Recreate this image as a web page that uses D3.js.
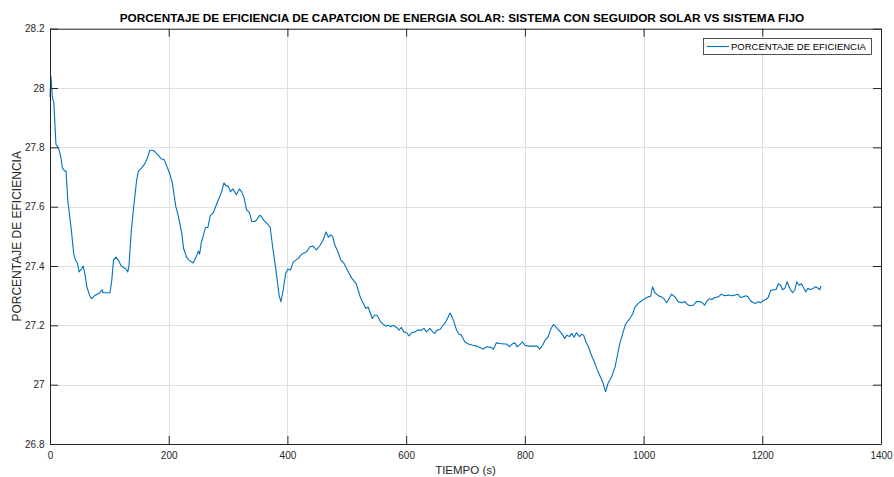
<!DOCTYPE html>
<html><head><meta charset="utf-8">
<script src="https://cdn.jsdelivr.net/npm/d3@7"></script>
<style>
html,body{margin:0;padding:0;background:#fff;}
svg{display:block;font-family:"Liberation Sans",Arial,Helvetica,sans-serif;}
</style></head>
<body><svg id="chart" width="894" height="477"></svg>
<script>
const titleText = "PORCENTAJE DE EFICIENCIA DE CAPATCION DE ENERGIA SOLAR: SISTEMA CON SEGUIDOR SOLAR VS SISTEMA FIJO";
const xLabel = "TIEMPO (s)";
const yLabel = "PORCENTAJE DE EFICIENCIA";
const seriesName = "PORCENTAJE DE EFICIENCIA";
const xTicks = [0, 200, 400, 600, 800, 1000, 1200, 1400];
const yTicks = [26.8, 27, 27.2, 27.4, 27.6, 27.8, 28, 28.2];

const time = [0,1.5,4,6.5,10,14,18,21,25,27,30,36,40,43,46,49,53,56,59,62,67,70,75,84,88,89,101,104,107,111,115,120,128,131,133,137,141,146,149,154,158,161,165,168,173,177,184,188,192,196,202,206,209,212,216,222,225,230,234,241,246,250,252,255,258,262,266,270,275,279,283,289,293,297,300,304,308,314,319,323,327,331,336,340,342,345,348,353,355,360,367,371,375,379,383,386,389,393,397,401,405,410,418,424,432,438,443,449,455,460,465,469,473,476,480,485,490,495,500,504,508,512,516,519,522,526,529,532,536,540,543,547,551,557,561,566,570,574,578,584,588,592,596,601,605,609,615,620,626,630,634,640,645,648,652,657,661,667,671,674,677,680,685,689,693,699,705,712,719,724,730,736,744,747,752,758,765,769,774,778,783,787,792,796,800,806,814,821,825,830,834,839,843,848,852,858,864,867,871,875,879,883,887,892,896,899,903,907,912,918,921,926,931,936,940,946,952,956,960,965,969,971,976,982,985,991,997,1002,1008,1012,1015,1019,1025,1030,1034,1039,1043,1047,1053,1058,1064,1070,1074,1078,1084,1089,1095,1099,1103,1106,1111,1115,1120,1126,1131,1137,1143,1148,1154,1159,1163,1168,1172,1176,1180,1185,1189,1193,1197,1201,1206,1210,1214,1218,1223,1227,1231,1234,1238,1242,1246,1251,1255,1258,1262,1266,1270,1273,1277,1281,1286,1290,1294,1297,1299];
const efficiency = [27.97,28.04,27.97,27.95,27.81,27.80,27.77,27.73,27.72,27.72,27.62,27.52,27.44,27.42,27.41,27.38,27.39,27.40,27.37,27.33,27.30,27.29,27.30,27.31,27.32,27.31,27.31,27.35,27.42,27.43,27.42,27.40,27.39,27.38,27.40,27.52,27.60,27.69,27.72,27.73,27.74,27.75,27.77,27.79,27.79,27.785,27.77,27.76,27.76,27.74,27.71,27.68,27.64,27.60,27.57,27.51,27.46,27.43,27.42,27.41,27.43,27.45,27.44,27.48,27.50,27.53,27.53,27.57,27.58,27.60,27.62,27.65,27.68,27.67,27.67,27.65,27.66,27.64,27.66,27.65,27.63,27.59,27.58,27.55,27.55,27.55,27.555,27.57,27.57,27.555,27.54,27.53,27.465,27.41,27.35,27.30,27.28,27.32,27.375,27.39,27.386,27.414,27.425,27.44,27.448,27.465,27.467,27.454,27.47,27.487,27.515,27.497,27.505,27.50,27.47,27.448,27.42,27.41,27.39,27.375,27.36,27.35,27.34,27.32,27.30,27.28,27.27,27.257,27.262,27.24,27.223,27.234,27.234,27.212,27.204,27.197,27.20,27.195,27.20,27.193,27.184,27.193,27.178,27.175,27.164,27.175,27.178,27.184,27.184,27.19,27.178,27.19,27.178,27.173,27.184,27.186,27.197,27.212,27.229,27.242,27.229,27.215,27.184,27.17,27.167,27.144,27.137,27.133,27.13,27.125,27.12,27.128,27.125,27.119,27.141,27.139,27.137,27.137,27.128,27.136,27.141,27.128,27.136,27.144,27.133,27.13,27.13,27.13,27.12,27.133,27.15,27.16,27.184,27.203,27.195,27.182,27.167,27.156,27.167,27.162,27.173,27.16,27.175,27.162,27.17,27.167,27.144,27.128,27.10,27.072,27.055,27.032,27.01,26.976,27.004,27.026,27.06,27.10,27.139,27.173,27.20,27.208,27.22,27.24,27.26,27.274,27.283,27.29,27.296,27.298,27.33,27.31,27.30,27.296,27.29,27.276,27.29,27.305,27.296,27.28,27.276,27.28,27.27,27.266,27.268,27.28,27.28,27.276,27.268,27.28,27.29,27.287,27.294,27.296,27.305,27.30,27.302,27.30,27.302,27.305,27.294,27.296,27.30,27.296,27.283,27.276,27.274,27.28,27.276,27.283,27.287,27.294,27.317,27.32,27.32,27.34,27.335,27.32,27.325,27.347,27.325,27.31,27.32,27.347,27.335,27.34,27.325,27.313,27.325,27.32,27.325,27.33,27.325,27.32,27.333];

const data = time.map((t, i) => ({t, v: efficiency[i]}));

const svg = d3.select("#chart");
const L = 50, R = 881, T = 28.7, B = 444;
const x = d3.scaleLinear().domain([0, 1400]).range([L, R]);
const y = d3.scaleLinear().domain([26.8, 28.2]).range([B, T]);
const axisColor = "#262626";
const gridColor = "#e0e0e0";

// grid
const grid = svg.append("g");
grid.selectAll("line.gx").data(xTicks).join("line")
  .attr("x1", d => Math.round(x(d)) + 0.5).attr("x2", d => Math.round(x(d)) + 0.5)
  .attr("y1", T).attr("y2", B).attr("stroke", gridColor).attr("stroke-width", 1);
grid.selectAll("line.gy").data(yTicks).join("line")
  .attr("y1", d => Math.round(y(d)) + 0.5).attr("y2", d => Math.round(y(d)) + 0.5)
  .attr("x1", L).attr("x2", R).attr("stroke", gridColor).attr("stroke-width", 1);

// line
const line = d3.line().x(d => x(d.t)).y(d => y(d.v));
svg.append("path").datum(data)
  .attr("fill", "none").attr("stroke", "#0072BD").attr("stroke-width", 1.1)
  .attr("stroke-linejoin", "round").attr("d", line);

// axes
function styleAxis(g) {
  g.select(".domain").attr("stroke", axisColor);
  g.selectAll(".tick line").attr("stroke", axisColor);
  g.selectAll(".tick text").attr("fill", axisColor).style("font-size", "10px")
    .style("font-family", "'Liberation Sans', Arial, sans-serif");
}
const fmtY = d => d3.format("~g")(d);
svg.append("g").attr("transform", `translate(0,${B})`)
  .call(d3.axisBottom(x).tickValues(xTicks).tickSizeInner(-8).tickSizeOuter(0).tickPadding(8).tickFormat(d3.format("d")))
  .call(styleAxis);
svg.append("g").attr("transform", `translate(0,${T})`)
  .call(d3.axisTop(x).tickValues(xTicks).tickSizeInner(-8).tickSizeOuter(0).tickFormat(""))
  .call(styleAxis);
svg.append("g").attr("transform", `translate(${L},0)`)
  .call(d3.axisLeft(y).tickValues(yTicks).tickSizeInner(-8).tickSizeOuter(0).tickPadding(5.5).tickFormat(fmtY))
  .call(styleAxis);
svg.append("g").attr("transform", `translate(${R},0)`)
  .call(d3.axisRight(y).tickValues(yTicks).tickSizeInner(-8).tickSizeOuter(0).tickFormat(""))
  .call(styleAxis);

// title & labels
svg.append("text").attr("x", 462).attr("y", 22).attr("text-anchor", "middle")
  .style("font-size", "11.8px").style("font-weight", "bold").attr("fill", "#000").text(titleText);
svg.append("text").attr("x", (L + R) / 2).attr("y", 474).attr("text-anchor", "middle")
  .style("font-size", "11.5px").attr("fill", axisColor).text(xLabel);
svg.append("text").attr("transform", `translate(21,${(T + B) / 2}) rotate(-90)`).attr("text-anchor", "middle")
  .style("font-size", "12px").attr("fill", axisColor).text(yLabel);

// legend
const lg = svg.append("g");
lg.append("rect").attr("x", 703.5).attr("y", 38.5).attr("width", 168).attr("height", 16)
  .attr("fill", "#fff").attr("stroke", axisColor).attr("stroke-width", 0.8);
lg.append("line").attr("x1", 707).attr("x2", 729).attr("y1", 46.5).attr("y2", 46.5)
  .attr("stroke", "#0072BD").attr("stroke-width", 1.1);
lg.append("text").attr("x", 731).attr("y", 50).style("font-size", "9.5px").attr("fill", "#000").text(seriesName);
</script></body></html>
